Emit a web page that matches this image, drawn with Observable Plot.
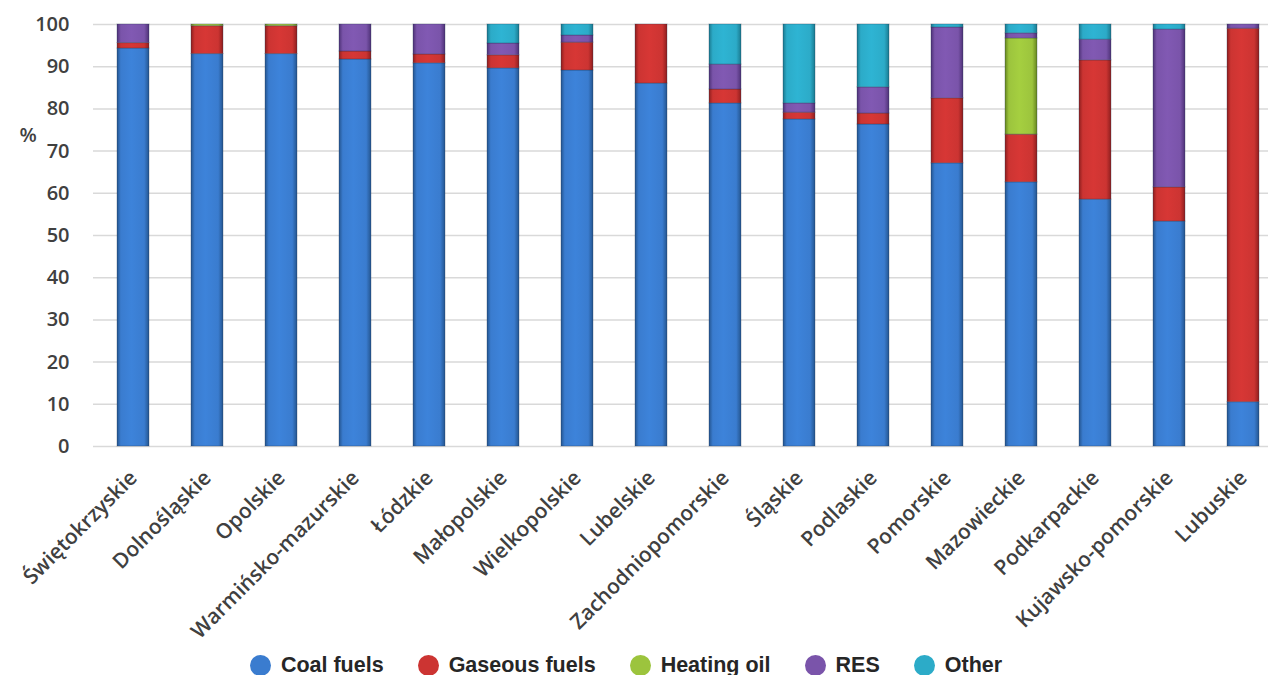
<!DOCTYPE html>
<html>
<head>
<meta charset="utf-8">
<script src="https://cdn.jsdelivr.net/npm/d3@7"></script>
<script src="https://cdn.jsdelivr.net/npm/@observablehq/plot@0.6"></script>
<style>
  html, body { margin: 0; padding: 0; background: #fff; overflow: hidden; }
  #chart svg { display: block; }
  #defs { position: absolute; width: 0; height: 0; }
  .legend {
    display: flex; justify-content: center; align-items: center;
    height: 40px; margin-left: -16px;
    font-family: "Liberation Sans", Arial, sans-serif; font-size: 21.5px; font-weight: 600; color: #262626;
  }
  .legend .item { display: flex; align-items: center; margin: 0 17px; }
  .legend .dot { width: 21px; height: 21px; border-radius: 50%; margin-right: 10px; }
</style>
</head>
<body>
<svg id="defs" aria-hidden="true"></svg>
<div id="chart"></div>
<script>
// Share of heating fuels by voivodeship (%)
const regions = [
  "Świętokrzyskie", "Dolnośląskie", "Opolskie", "Warmińsko-mazurskie", "Łódzkie",
  "Małopolskie", "Wielkopolskie", "Lubelskie", "Zachodniopomorskie", "Śląskie",
  "Podlaskie", "Pomorskie", "Mazowieckie", "Podkarpackie", "Kujawsko-pomorskie", "Lubuskie"
];
const seriesNames = ["Coal fuels", "Gaseous fuels", "Heating oil", "RES", "Other"];
// Base colour and darker edge colour for each fuel
const seriesColors = ["#3a7ccf", "#cc3432", "#9cc43d", "#7a54aa", "#2cabc8"];
const seriesEdges  = ["#24558f", "#8f1e1e", "#66861f", "#4e3277", "#1a7a90"];

const coal       = [94.3, 93.0, 93.0, 91.7, 90.8, 89.6, 89.1, 86.0, 81.3, 77.5, 76.3, 67.1, 62.6, 58.5, 53.3, 10.5];
const gaseous    = [ 1.3,  6.6,  6.6,  1.9,  2.1,  3.1,  6.6, 14.0,  3.3,  1.6,  2.6, 15.4, 11.3, 33.0,  8.1, 88.5];
const heatingOil = [ 0,    0.4,  0.4,  0,    0,    0,    0,    0,    0,    0,    0,    0,   22.8,  0,    0,    0  ];
const res        = [ 4.4,  0,    0,    6.4,  7.1,  2.8,  1.7,  0,    5.9,  2.2,  6.2, 16.8,  1.2,  4.9, 37.4,  1.0];
const other      = [ 0,    0,    0,    0,    0,    4.5,  2.6,  0,    9.5, 18.7, 14.9,  0.7,  2.1,  3.6,  1.2,  0  ];

const yTicks = [0, 10, 20, 30, 40, 50, 60, 70, 80, 90, 100];

// Tidy table for the stacked bars
const seriesValues = [coal, gaseous, heatingOil, res, other];
const rows = [];
seriesNames.forEach((name, s) => {
  regions.forEach((region, i) => {
    rows.push({region, series: name, value: seriesValues[s][i]});
  });
});

// Horizontal shading gradients giving the bars a rounded, bevelled look
const defs = d3.select("#defs").append("defs");
seriesColors.forEach((c, i) => {
  const g = defs.append("linearGradient")
    .attr("id", `fuel-${i}`).attr("x1", "0").attr("x2", "1").attr("y1", "0").attr("y2", "0");
  const light = d3.color(c).brighter(0.15).formatHex();
  [[0, seriesEdges[i]], [0.12, c], [0.45, light], [0.85, c], [1, seriesEdges[i]]]
    .forEach(([o, col]) => g.append("stop").attr("offset", o).attr("stop-color", col));
});
const fillUrls = seriesColors.map((_, i) => `url(#fuel-${i})`);

const font = "'Open Sans', 'Liberation Sans', sans-serif";

const chart = Plot.plot({
  width: 1268,
  height: 645,
  marginLeft: 93,
  marginRight: -14,
  marginTop: 24,
  marginBottom: 199,
  style: {fontFamily: font, fontSize: "20px", fontWeight: 600, color: "#404040", background: "#fff"},
  x: {domain: regions, paddingInner: 0.57, paddingOuter: 0.285, label: null},
  y: {domain: [0, 100], label: null},
  color: {domain: seriesNames, range: fillUrls},
  marks: [
    Plot.gridY(yTicks, {stroke: "#d9d9d9", strokeOpacity: 1, strokeWidth: 1.5}),
    Plot.barY(rows, {
      x: "region", y: "value", fill: "series",
      order: seriesNames,
      stroke: "#1c2f4a", strokeOpacity: 0.3, strokeWidth: 1
    }),
    Plot.axisY(yTicks, {tickSize: 0, tickPadding: 24, fontSize: 20, fill: "#404040"}),
    Plot.axisX({tickSize: 0, tickPadding: 28, tickRotate: -45, fontSize: 21, fill: "#404040"}),
    Plot.text(["%"], {frameAnchor: "top-left", dx: -74, dy: 103, fontSize: 20, fill: "#404040"})
  ]
});

document.getElementById("chart").appendChild(chart);

// Legend below the plot
const legend = document.createElement("div");
legend.className = "legend";
seriesNames.forEach((name, i) => {
  const item = document.createElement("div");
  item.className = "item";
  const dot = document.createElement("span");
  dot.className = "dot";
  dot.style.background = seriesColors[i];
  const label = document.createElement("span");
  label.textContent = name;
  item.appendChild(dot);
  item.appendChild(label);
  legend.appendChild(item);
});
document.body.appendChild(legend);
</script>
</body>
</html>
